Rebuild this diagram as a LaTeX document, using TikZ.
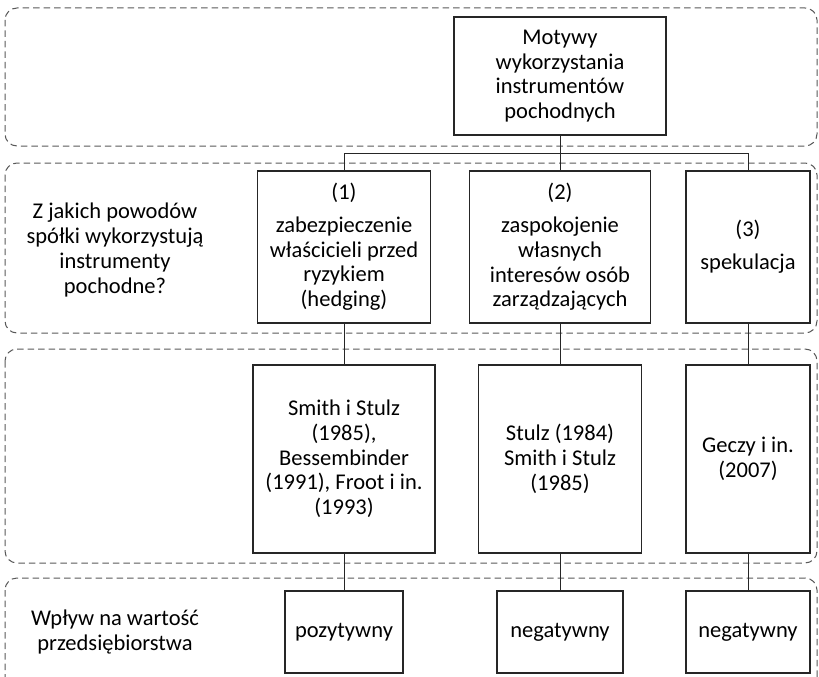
\documentclass[tikz,border=0pt]{standalone}
\usepackage{fontspec}
\setmainfont{Carlito}
\begin{document}
\begin{tikzpicture}[x=1pt,y=-1pt,
  band/.style={draw=black!65, dash pattern=on 6.5pt off 4pt, rounded corners=12pt, line width=1pt},
  box/.style={draw=black!85, line width=1.1pt, align=center, inner sep=0pt, font=\fontsize{22.5}{24.7}\selectfont},
  lbl/.style={align=center, font=\fontsize{22.5}{24.7}\selectfont},
  conn/.style={draw=black!85, line width=1pt}]
\useasboundingbox (0,0) rectangle (819,677);
% bands
\draw[band] (5,8) rectangle (817,146);
\draw[band] (5,163) rectangle (817,333);
\draw[band] (5,349) rectangle (817,563);
\draw[band] (5,578) rectangle (817,700);
% top
\node[box, minimum width=212, minimum height=118] (mot) at (560,76) {Motywy\\wykorzystania\\instrumentów\\pochodnych};
% row 2
\node[box, minimum width=173, minimum height=152] (r2a) at (344,247) {(1)\\[8pt]zabezpieczenie\\właścicieli przed\\ryzykiem\\(hedging)};
\node[box, minimum width=181, minimum height=152] (r2b) at (560,247) {(2)\\[8pt]zaspokojenie\\własnych\\interesów osób\\zarządzających};
\node[box, minimum width=124, minimum height=152] (r2c) at (748,247) {(3)\\[8pt]spekulacja};
\node[lbl] (q1) at (115,250) {Z jakich powodów\\spółki wykorzystują\\instrumenty\\pochodne?};
% row 3
\node[box, minimum width=182, minimum height=188] (r3a) at (344,459) {Smith i Stulz\\(1985),\\Bessembinder\\(1991), Froot i in.\\(1993)};
\node[box, minimum width=163, minimum height=188] (r3b) at (560,459) {Stulz (1984)\\Smith i Stulz\\(1985)};
\node[box, minimum width=124, minimum height=188] (r3c) at (748,459) {Geczy i in.\\(2007)};
% row 4
\node[box, minimum width=118, minimum height=82] (r4a) at (344,632) {pozytywny};
\node[box, minimum width=126, minimum height=82] (r4b) at (560,632) {negatywny};
\node[box, minimum width=124, minimum height=82] (r4c) at (748,632) {negatywny};
\node[lbl] (q2) at (115,632) {Wpływ na wartość\\przedsiębiorstwa};
% connectors
\coordinate (j) at (560,153);
\draw[conn] (mot.south) -- (j);
\draw[conn] (j) -| (r2a.north);
\draw[conn] (j) -| (r2c.north);
\draw[conn] (j) -- (r2b.north);
\draw[conn] (r2a) -- (r3a);
\draw[conn] (r2b) -- (r3b);
\draw[conn] (r2c) -- (r3c);
\draw[conn] (r3a) -- (r4a);
\draw[conn] (r3b) -- (r4b);
\draw[conn] (r3c) -- (r4c);
\end{tikzpicture}
\end{document}
